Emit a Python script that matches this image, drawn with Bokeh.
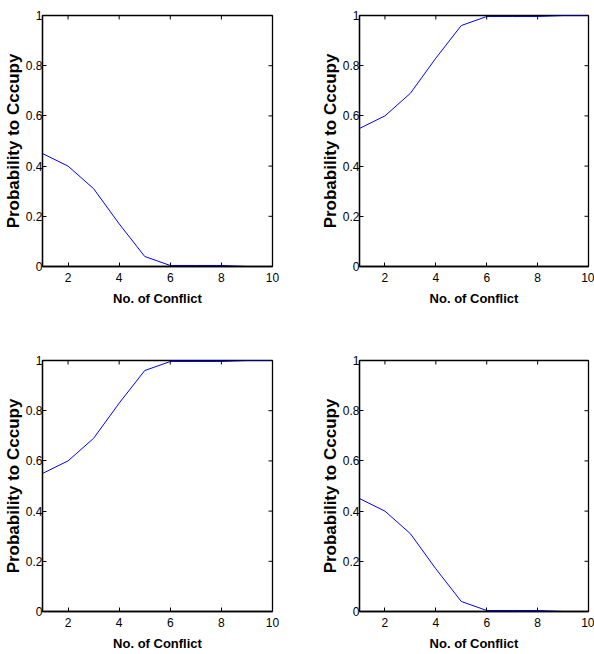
import math
from bokeh.plotting import figure
from bokeh.layouts import column, row
from bokeh.models import FixedTicker, NumeralTickFormatter, Range1d
from bokeh.embed import file_html
from bokeh.resources import INLINE

x_conflict = [1, 2, 3, 4, 5, 6, 7, 8, 9, 10]
prob_low = [0.45, 0.40, 0.31, 0.17, 0.04, 0.004, 0.004, 0.004, 0.0, 0.0]
prob_high = [0.55, 0.60, 0.69, 0.83, 0.96, 0.996, 0.996, 0.996, 1.0, 1.0]
x_ticks = [2, 4, 6, 8, 10]
y_ticks = [0, 0.2, 0.4, 0.6, 0.8, 1.0]
x_label = "No. of Conflict"
y_label = "Probability to Cccupy"
X_MIN, X_MAX, Y_MIN, Y_MAX = 1, 10, 0, 1


def make(ys, width, height, bl, br, bt, bb):
    p = figure(width=width, height=height, output_backend="svg", toolbar_location=None,
               x_range=Range1d(X_MIN, X_MAX), y_range=Range1d(Y_MIN, Y_MAX),
               min_border_left=bl, min_border_right=br, min_border_top=bt, min_border_bottom=bb)
    p.xgrid.visible = False
    p.ygrid.visible = False
    p.outline_line_color = "black"
    p.outline_line_width = 1.3
    p.line(x_conflict, ys, line_color="#0000ff", line_width=1)
    for ax, ticks in ((p.xaxis[0], x_ticks), (p.yaxis[0], y_ticks)):
        ax.ticker = FixedTicker(ticks=ticks)
        ax.formatter = NumeralTickFormatter(format="0.[0]")
        ax.major_tick_in = 4
        ax.major_tick_out = 0
        ax.minor_tick_line_color = None
        ax.axis_line_color = "black"
        ax.axis_line_width = 1.3
        ax.major_tick_line_color = "black"
        ax.major_label_text_font = "Liberation Sans"
        ax.major_label_text_font_size = "12px"
        ax.major_label_text_color = "black"
        ax.axis_label_text_font = "Liberation Sans"
        ax.axis_label_text_font_style = "bold"
        ax.axis_label_text_color = "black"
    p.xaxis.axis_label = x_label
    p.yaxis.axis_label = y_label
    p.xaxis.axis_label_text_font_size = "13px"
    p.yaxis.axis_label_text_font_size = "17px"
    p.xaxis.major_label_standoff = 6
    p.xaxis.axis_label_standoff = 6
    p.yaxis.major_label_standoff = 0
    p.yaxis.axis_label_standoff = 0
    # mirrored ticks on top and right edges
    p.ray(x=x_ticks, y=[Y_MAX] * len(x_ticks), length=4, length_units="screen",
          angle=-math.pi / 2, line_color="black", line_width=1)
    p.ray(x=[X_MAX] * len(y_ticks), y=y_ticks, length=4, length_units="screen",
          angle=math.pi, line_color="black", line_width=1)
    return p


p1 = make(prob_low, 317, 330, 41, 45, 15, 64)
p2 = make(prob_high, 277, 330, 41, 6, 15, 64)
p3 = make(prob_high, 317, 324, 41, 45, 30, 43)
p4 = make(prob_low, 277, 324, 41, 6, 30, 43)

layout = column(row(p1, p2), row(p3, p4))
open("out.html", "w").write(file_html(layout, INLINE))
